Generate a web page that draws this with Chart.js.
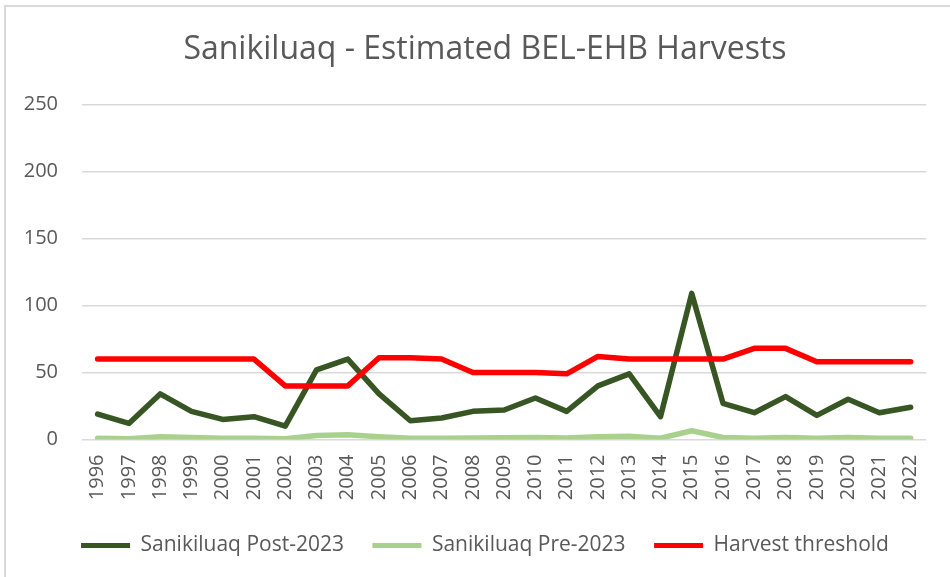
<!DOCTYPE html>
<html>
<head>
<meta charset="utf-8">
<script src="https://cdn.jsdelivr.net/npm/chart.js@4"></script>
<style>
  html, body { margin: 0; padding: 0; background: #fff; }
  #wrap { position: relative; width: 950px; height: 577px; overflow: hidden; }
  #frame { position: absolute; left: 4px; top: 5px; width: 960px; height: 600px;
           border-left: 2px solid #d9d9d9; border-top: 2px solid #d9d9d9; box-sizing: border-box; }
  canvas { position: absolute; left: 0; top: 0; }
</style>
</head>
<body>
<div id="wrap">
  <div id="frame"></div>
  <canvas id="c" width="950" height="577"></canvas>
</div>
<script>
const years = ['1996','1997','1998','1999','2000','2001','2002','2003','2004','2005','2006','2007','2008','2009','2010','2011','2012','2013','2014','2015','2016','2017','2018','2019','2020','2021','2022'];
const postValues = [19,12,34,21,15,17,10,52,60,34,14,16,21,22,31,21,40,49,17,109,27,20,32,18,30,20,24];
const preValues = [1,0.5,2,1.5,1,1,0.5,3,3.5,2,1,1,1.2,1.3,1.5,1.2,2,2.5,1,6.5,1.5,1,1.5,1,1.5,1,1];
const thresholdValues = [60,60,60,60,60,60,40,40,40,61,61,60,50,50,50,49,62,60,60,60,60,68,68,58,58,58,58];
const yTicks = [0,50,100,150,200,250];
const chartTitle = 'Sanikiluaq - Estimated BEL-EHB Harvests';
const seriesNames = ['Sanikiluaq Post-2023','Sanikiluaq Pre-2023','Harvest threshold'];

const FONT = 'Open Sans';
const TXT = '#595959';

function ds(label, data, color, order) {
  return {
    label, data, borderColor: color, backgroundColor: color,
    borderWidth: 5.5, pointRadius: 0, pointHoverRadius: 0, tension: 0,
    borderCapStyle: 'round', borderJoinStyle: 'round', fill: false, order
  };
}

new Chart(document.getElementById('c'), {
  type: 'line',
  data: {
    labels: years,
    datasets: [
      ds(seriesNames[0], postValues, '#375623', 2),
      ds(seriesNames[1], preValues, '#A9D18E', 1),
      ds(seriesNames[2], thresholdValues, '#FF0000', 0)
    ]
  },
  options: {
    responsive: false,
    animation: false,
    layout: { padding: { left: 40, right: 20, top: 6, bottom: 11 } },
    plugins: {
      title: {
        display: true, text: chartTitle, color: TXT,
        font: { family: FONT, size: 32, weight: 'normal' },
        padding: { top: 25, bottom: 35 }
      },
      legend: {
        display: true, position: 'bottom',
        labels: {
          color: TXT, font: { family: FONT, size: 21 },
          boxWidth: 49, boxHeight: 5, padding: 28.5,
          generateLabels(chart) {
            return chart.data.datasets.map((d, i) => ({
              text: d.label, fillStyle: d.borderColor, strokeStyle: d.borderColor,
              lineWidth: 0, hidden: false, datasetIndex: i, fontColor: TXT
            }));
          }
        }
      },
      tooltip: { enabled: false }
    },
    scales: {
      x: {
        offset: true,
        grid: { display: false, drawTicks: false },
        border: { display: false },
        ticks: { color: TXT, font: { family: FONT, size: 20 }, minRotation: 90, maxRotation: 90, padding: 15, autoSkip: false },
        afterFit(s) { s.height = 67; }
      },
      y: {
        min: 0, max: 250,
        afterBuildTicks(s) { s.ticks = yTicks.map(v => ({ value: v })); },
        grid: { color: '#d9d9d9', lineWidth: 1.5, drawTicks: false },
        border: { display: false },
        ticks: { color: TXT, font: { family: FONT, size: 20 }, padding: 24 },
        afterFit(s) { s.width = 42; s._computeLabelArea = () => undefined; }
      }
    }
  }
});
</script>
</body>
</html>
